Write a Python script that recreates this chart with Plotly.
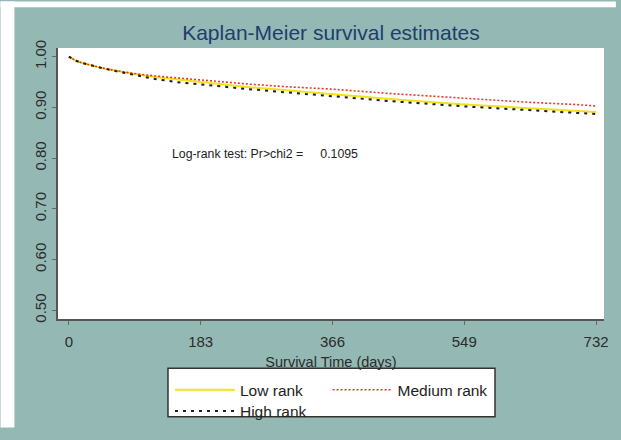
import plotly.graph_objects as go

# ---- data ----
days = [0, 10, 20, 30, 45, 60, 90, 120, 150, 183, 250, 300, 366, 450, 549, 640, 700, 732]
low_rank = [1.000, 0.992, 0.987, 0.983, 0.978, 0.974, 0.966, 0.960, 0.955, 0.950,
            0.940, 0.934, 0.926, 0.916, 0.906, 0.899, 0.894, 0.891]
medium_rank = [1.000, 0.992, 0.987, 0.983, 0.978, 0.974, 0.967, 0.962, 0.958, 0.954,
               0.946, 0.941, 0.936, 0.927, 0.918, 0.910, 0.906, 0.903]
high_rank = [1.000, 0.992, 0.987, 0.983, 0.978, 0.973, 0.964, 0.956, 0.950, 0.945,
             0.936, 0.930, 0.922, 0.912, 0.902, 0.895, 0.890, 0.887]
x_ticks = [0, 183, 366, 549, 732]
y_ticks = [0.5, 0.6, 0.7, 0.8, 0.9, 1.0]
y_tick_labels = ["0.50", "0.60", "0.70", "0.80", "0.90", "1.00"]
series_names = ["Low rank", "Medium rank", "High rank"]

W, H = 621, 440
L, R, T, B = 58, 12, 48, 112
PW, PH = W - L - R, H - T - B

def px_x(p):
    return (p - L) / PW

def px_y(p):
    return (H - B - p) / PH

TEAL = "#94b9b4"
FONT = "Liberation Sans, Arial, sans-serif"

fig = go.Figure()
fig.add_trace(go.Scatter(x=days, y=low_rank, name=series_names[0], mode="lines",
                         line=dict(color="#f2e21a", width=2), legend="legend2"))
fig.add_trace(go.Scatter(x=days, y=medium_rank, name=series_names[1], mode="lines",
                         line=dict(color="#e8352a", width=1.6, dash="2px,2px"), legend="legend3"))
fig.add_trace(go.Scatter(x=days, y=high_rank, name=series_names[2], mode="lines",
                         line=dict(color="#1e1e1e", width=2, dash="3px,5px"), legend="legend4"))

shapes = [
    # white border strips of the screenshot
    dict(type="rect", xref="paper", yref="paper", x0=px_x(0), x1=px_x(14), y0=px_y(440), y1=px_y(0),
         fillcolor="white", line=dict(width=0), layer="below"),
    dict(type="rect", xref="paper", yref="paper", x0=px_x(0), x1=px_x(621), y0=px_y(6), y1=px_y(0),
         fillcolor="white", line=dict(width=0), layer="below"),
    # legend box
    dict(type="rect", xref="paper", yref="paper", x0=px_x(169), x1=px_x(499), y0=px_y(429), y1=px_y(379),
         fillcolor="white", line=dict(color="#333333", width=1.5), layer="below"),
]

def legend_at(px, py_top):
    return dict(x=px_x(px), y=px_y(py_top), xanchor="left", yanchor="top",
                bgcolor="rgba(0,0,0,0)", borderwidth=0, itemwidth=60,
                font=dict(size=15.5, color="#1e1e1e", family=FONT))

fig.update_layout(
    width=W, height=H,
    margin=dict(l=L, r=R, t=T, b=B),
    paper_bgcolor=TEAL,
    plot_bgcolor="white",
    font=dict(family=FONT, color="#2b2b2b"),
    title=dict(text="Kaplan-Meier survival estimates", x=0.5, xref="paper", xanchor="center",
               y=1 - 33 / H, yref="container", yanchor="middle",
               font=dict(size=21, color="#1f3d6e", family=FONT)),
    xaxis=dict(range=[-15.1, 743.0], tickvals=x_ticks, ticks="outside", ticklen=4, tickcolor="#666",
               showline=True, linecolor="#555555", linewidth=2, showgrid=False, zeroline=False,
               tickfont=dict(size=15, color="#2b2b2b"), ticklabelstandoff=4,
               title=dict(text="Survival Time (days)", font=dict(size=14.5, color="#2b2b2b"), standoff=8)),
    yaxis=dict(range=[0.4828, 1.0172], tickvals=y_ticks, ticktext=y_tick_labels, tickangle=-90,
               ticks="outside", ticklen=4, tickcolor="#666",
               showline=True, linecolor="#555555", linewidth=2, showgrid=False, zeroline=False,
               tickfont=dict(size=15, color="#2b2b2b")),
    legend2=legend_at(171, 384),
    legend3=legend_at(330, 384),
    legend4=legend_at(171, 406),
    shapes=shapes,
    annotations=[
        dict(text="Log-rank test: Pr>chi2 =\u00a0\u00a0\u00a0\u00a0 0.1095", x=141, y=0.809,
             xref="x", yref="y", xanchor="left", yanchor="middle", showarrow=False,
             font=dict(size=12.3, color="#222222", family=FONT)),
    ],
)

fig.write_html("out.html")
